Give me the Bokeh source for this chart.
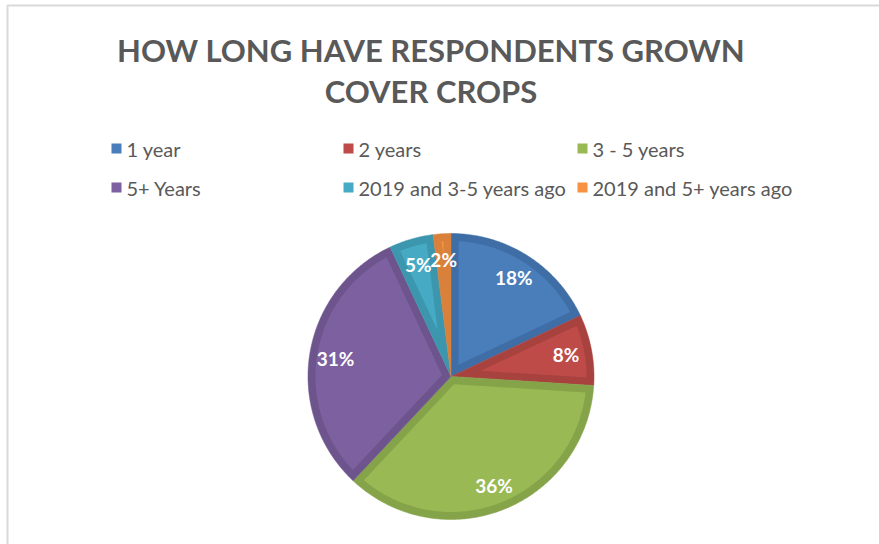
import numpy as np
from bokeh.plotting import figure
from bokeh.models import Range1d
from bokeh.core.properties import value
from bokeh.embed import file_html
from bokeh.resources import INLINE

# ---- data ----
categories = ["1 year", "2 years", "3 - 5 years", "5+ Years",
              "2019 and 3-5 years ago", "2019 and 5+ years ago"]
shares = [18, 8, 36, 31, 5, 2]
share_labels = ["18%", "8%", "36%", "31%", "5%", "2%"]
title_lines = ["HOW LONG HAVE RESPONDENTS GROWN", "COVER CROPS"]

# ---- styles ----
fill_colors = ["#4A7EBB", "#BE4B48", "#98B954", "#7D60A0", "#46AAC5", "#F69240"]
edge_colors = ["#3F6DA5", "#A7423F", "#85A349", "#6D548C", "#3C96AD", "#D9803A"]
W, H = 879, 544
cx, cy, R = 450.5, 376.0, 143.0
inset = 7.5
label_r = 117.0

p = figure(width=W, height=H, output_backend="svg", toolbar_location=None,
           x_range=Range1d(0, W), y_range=Range1d(H, 0),
           min_border=0, outline_line_color=None)
p.axis.visible = False
p.grid.visible = False
p.background_fill_color = "white"
p.border_fill_color = "white"

# chart area frame (top and left edges visible)
p.line(x=[7, 7, W + 5], y=[H + 5, 5, 5], line_color="#D9D9D9", line_width=2)

# ---- pie geometry from shares ----
vals = np.array(shares, dtype=float)
frac = vals / vals.sum()
ends = np.cumsum(frac) * 2 * np.pi
starts = ends - frac * 2 * np.pi


def pt(r, t):
    return cx + r * np.sin(t), cy - r * np.cos(t)


outer_xs, outer_ys, inner_xs, inner_ys = [], [], [], []
lx, ly = [], []
for t0, t1 in zip(starts, ends):
    ts = np.linspace(t0, t1, max(8, int((t1 - t0) * 80)))
    ax, ay = pt(R, ts)
    outer_xs.append(np.concatenate([[cx], ax]).tolist())
    outer_ys.append(np.concatenate([[cy], ay]).tolist())
    theta = t1 - t0
    tm = (t0 + t1) / 2
    s = inset / np.sin(theta / 2)
    delta = np.arcsin(inset / (R - inset))
    if s < R - inset and t1 - delta > t0 + delta:
        apx, apy = pt(s, tm)
        ti = np.linspace(t0 + delta, t1 - delta, max(8, int((t1 - t0) * 80)))
        bx, by = pt(R - inset, ti)
        inner_xs.append(np.concatenate([[apx], bx]).tolist())
        inner_ys.append(np.concatenate([[apy], by]).tolist())
    else:
        inner_xs.append([])
        inner_ys.append([])
    x, y = pt(label_r, tm)
    lx.append(x)
    ly.append(y)

p.patches(xs=outer_xs, ys=outer_ys, fill_color=edge_colors, line_color=edge_colors,
          line_width=0.5)
p.patches(xs=inner_xs, ys=inner_ys, fill_color=fill_colors, line_color=None)

p.text(x=lx, y=ly, text=share_labels, text_align="center", text_baseline="middle",
       text_font=value("Lato"), text_font_style="bold", text_font_size="19px",
       text_color="white")

# ---- title ----
p.text(x=[430.5, 430.5], y=[49, 90], text=title_lines, text_align="center",
       text_baseline="middle", text_font=value("Lato"), text_font_style="bold",
       text_font_size="31px", text_color="#595959")

# ---- legend (3 columns x 2 rows) ----
col_x = [111.0, 343.0, 577.0]
row_y = [148.0, 187.0]
sq = 10
leg_x = [col_x[i % 3] for i in range(len(categories))]
leg_y = [row_y[i // 3] for i in range(len(categories))]
p.rect(x=[x + sq / 2 for x in leg_x], y=leg_y, width=sq, height=sq,
       fill_color=fill_colors, line_color=None)
p.text(x=[x + 15 for x in leg_x], y=leg_y, text=categories, text_align="left",
       text_baseline="middle", text_font=value("Lato"), text_font_size="20px",
       text_color="#595959")

open("out.html", "w").write(file_html(p, INLINE))
